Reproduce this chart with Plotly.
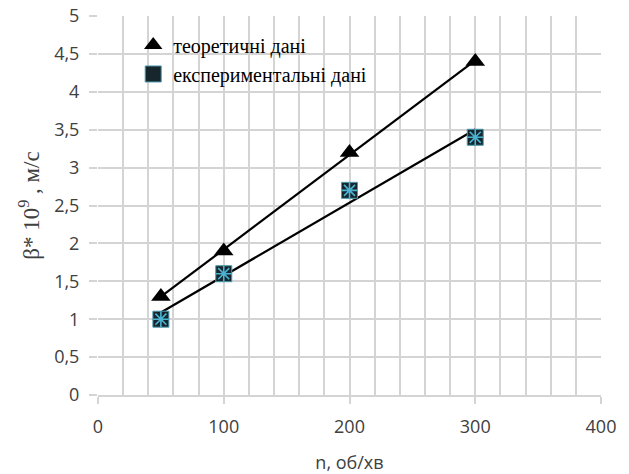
import numpy as np
import plotly.graph_objects as go

n_vals = [50, 100, 200, 300]
theor = [1.3, 1.9, 3.2, 4.4]
exper = [1.0, 1.6, 2.7, 3.4]
name_theor = "теоретичні дані"
name_exper = "експериментальні дані"

def trend(x, y):
    k, b = np.polyfit(x, y, 1)
    xs = [min(x), max(x)]
    return xs, [k * v + b for v in xs]

fig = go.Figure()
tx, ty = trend(n_vals, theor)
ex, ey = trend(n_vals, exper)
fig.add_trace(go.Scatter(x=tx, y=ty, mode="lines", line=dict(color="black", width=2.2), showlegend=False, hoverinfo="skip"))
fig.add_trace(go.Scatter(x=ex, y=ey, mode="lines", line=dict(color="black", width=2.2), showlegend=False, hoverinfo="skip"))
fig.add_trace(go.Scatter(x=n_vals, y=theor, mode="markers", name=name_theor,
                         marker=dict(symbol="triangle-up", size=17, color="black")))
fig.add_trace(go.Scatter(x=n_vals, y=exper, mode="markers", name=name_exper,
                         marker=dict(symbol="square", size=16, color="#16262c",
                                     line=dict(color="#4a9bb0", width=1))))
fig.add_trace(go.Scatter(x=n_vals, y=exper, mode="markers", showlegend=False,
                         marker=dict(symbol="asterisk-open", size=13, color="#4bb3d2",
                                     line=dict(color="#4bb3d2", width=1.6))))

grid = "#d4d4d4"
txt = "#404040"
fig.update_layout(
    width=629, height=474,
    margin=dict(l=98, r=28, t=16, b=79),
    paper_bgcolor="white", plot_bgcolor="white",
    separators=", ",
    font=dict(family="Open Sans", size=18, color=txt),
    showlegend=True,
    legend=dict(x=0.07, y=0.975, xanchor="left", yanchor="top",
                bgcolor="rgba(255,255,255,0)",
                font=dict(family="Liberation Serif", size=20, color="black"),
                itemwidth=30, tracegroupgap=2),
    xaxis=dict(range=[0, 400], dtick=100, tick0=0, showgrid=True, gridcolor=grid, gridwidth=1.5,
               minor=dict(dtick=20, showgrid=True, gridcolor=grid, gridwidth=1.5),
               showline=True, linecolor=grid, linewidth=1.5, zeroline=False,
               ticks="outside", ticklen=7, tickcolor=grid, tickwidth=1.5,
               ticklabelstandoff=8, automargin=False,
               tickfont=dict(family="Open Sans", size=18, color=txt),
               title=dict(text="n, об/хв", standoff=20,
                          font=dict(family="Open Sans", size=18, color=txt))),
    yaxis=dict(range=[0, 5], dtick=0.5, tick0=0, showgrid=True, gridcolor=grid, gridwidth=1.5,
               showline=False, zeroline=False,
               ticks="outside", ticklen=8, tickcolor=grid, tickwidth=1.5,
               ticklabelstandoff=6, automargin=False,
               tickfont=dict(family="Open Sans", size=18, color=txt),
               title=dict(text="β* 10<sup>9</sup> , м/с", standoff=8,
                          font=dict(family="Liberation Serif", size=23, color=txt))),
)

fig.write_html("out.html")
